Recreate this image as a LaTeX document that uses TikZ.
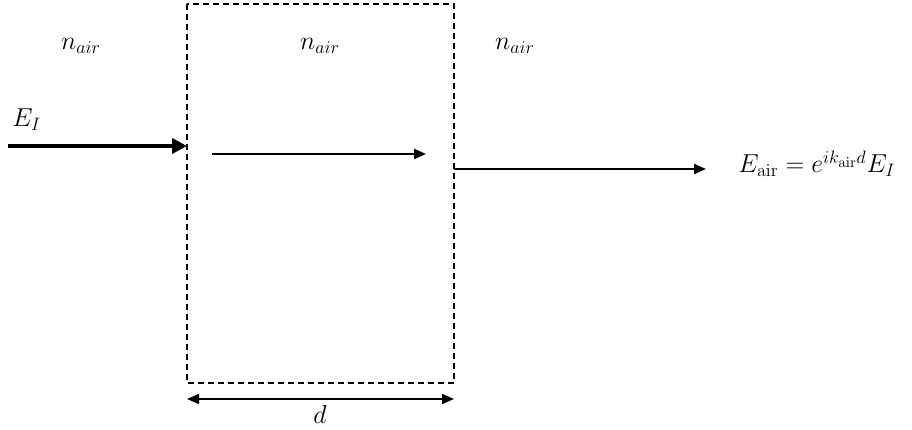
\documentclass[tikz,border=0pt]{standalone}
\usetikzlibrary{arrows.meta}
\tikzset{
  slab/.style={line width=1.5pt, dash pattern=on 6pt off 4pt},
  beam/.style={line width=2.2pt, -{Triangle[length=12pt,width=10pt]}},
  label/.style={inner sep=0pt, font=\LARGE, scale=1.5, transform shape}
}
\begin{document}
\begin{tikzpicture}[x=1pt,y=-1pt]
        \useasboundingbox (0,0) rectangle (912,430);
        % the air slab of thickness d
        \draw[slab] (187,4) rectangle (454,383);
        \coordinate (inS) at (8,146);   \coordinate (inE) at (187,146);
        \coordinate (midS) at (212,154); \coordinate (midE) at (426,154);
        \coordinate (outS) at (454,169); \coordinate (outE) at (706,169);
        \coordinate (dL) at (187,399);  \coordinate (dR) at (454,399);
        % beams
        \draw[line width=4.5pt, -{Triangle[length=15pt,width=15pt]}] (inS) -- (inE);
        \draw[beam] (midS) -- (midE);
        \draw[beam] (outS) -- (outE);
        \draw[line width=1.5pt, {Triangle[length=12pt,width=10pt]}-{Triangle[length=12pt,width=10pt]}] (dL) -- (dR);
        % labels
        \node[label, anchor=base] (nL) at (81,50) {$n_{air}$};
        \node[label, anchor=base] (nM) at (320,50) {$n_{air}$};
        \node[label, anchor=base] (nR) at (515,50) {$n_{air}$};
        \node[label, anchor=base west] (EI) at (12,127) {$E_I$};
        \node[label, anchor=base west] (Eair) at (738,173) {$E_{\mathrm{air}} = e^{ik_{\mathrm{air}}d}E_I$};
        \node[label, anchor=base] (d) at (320,423) {$d$};
    \end{tikzpicture}
\end{document}
